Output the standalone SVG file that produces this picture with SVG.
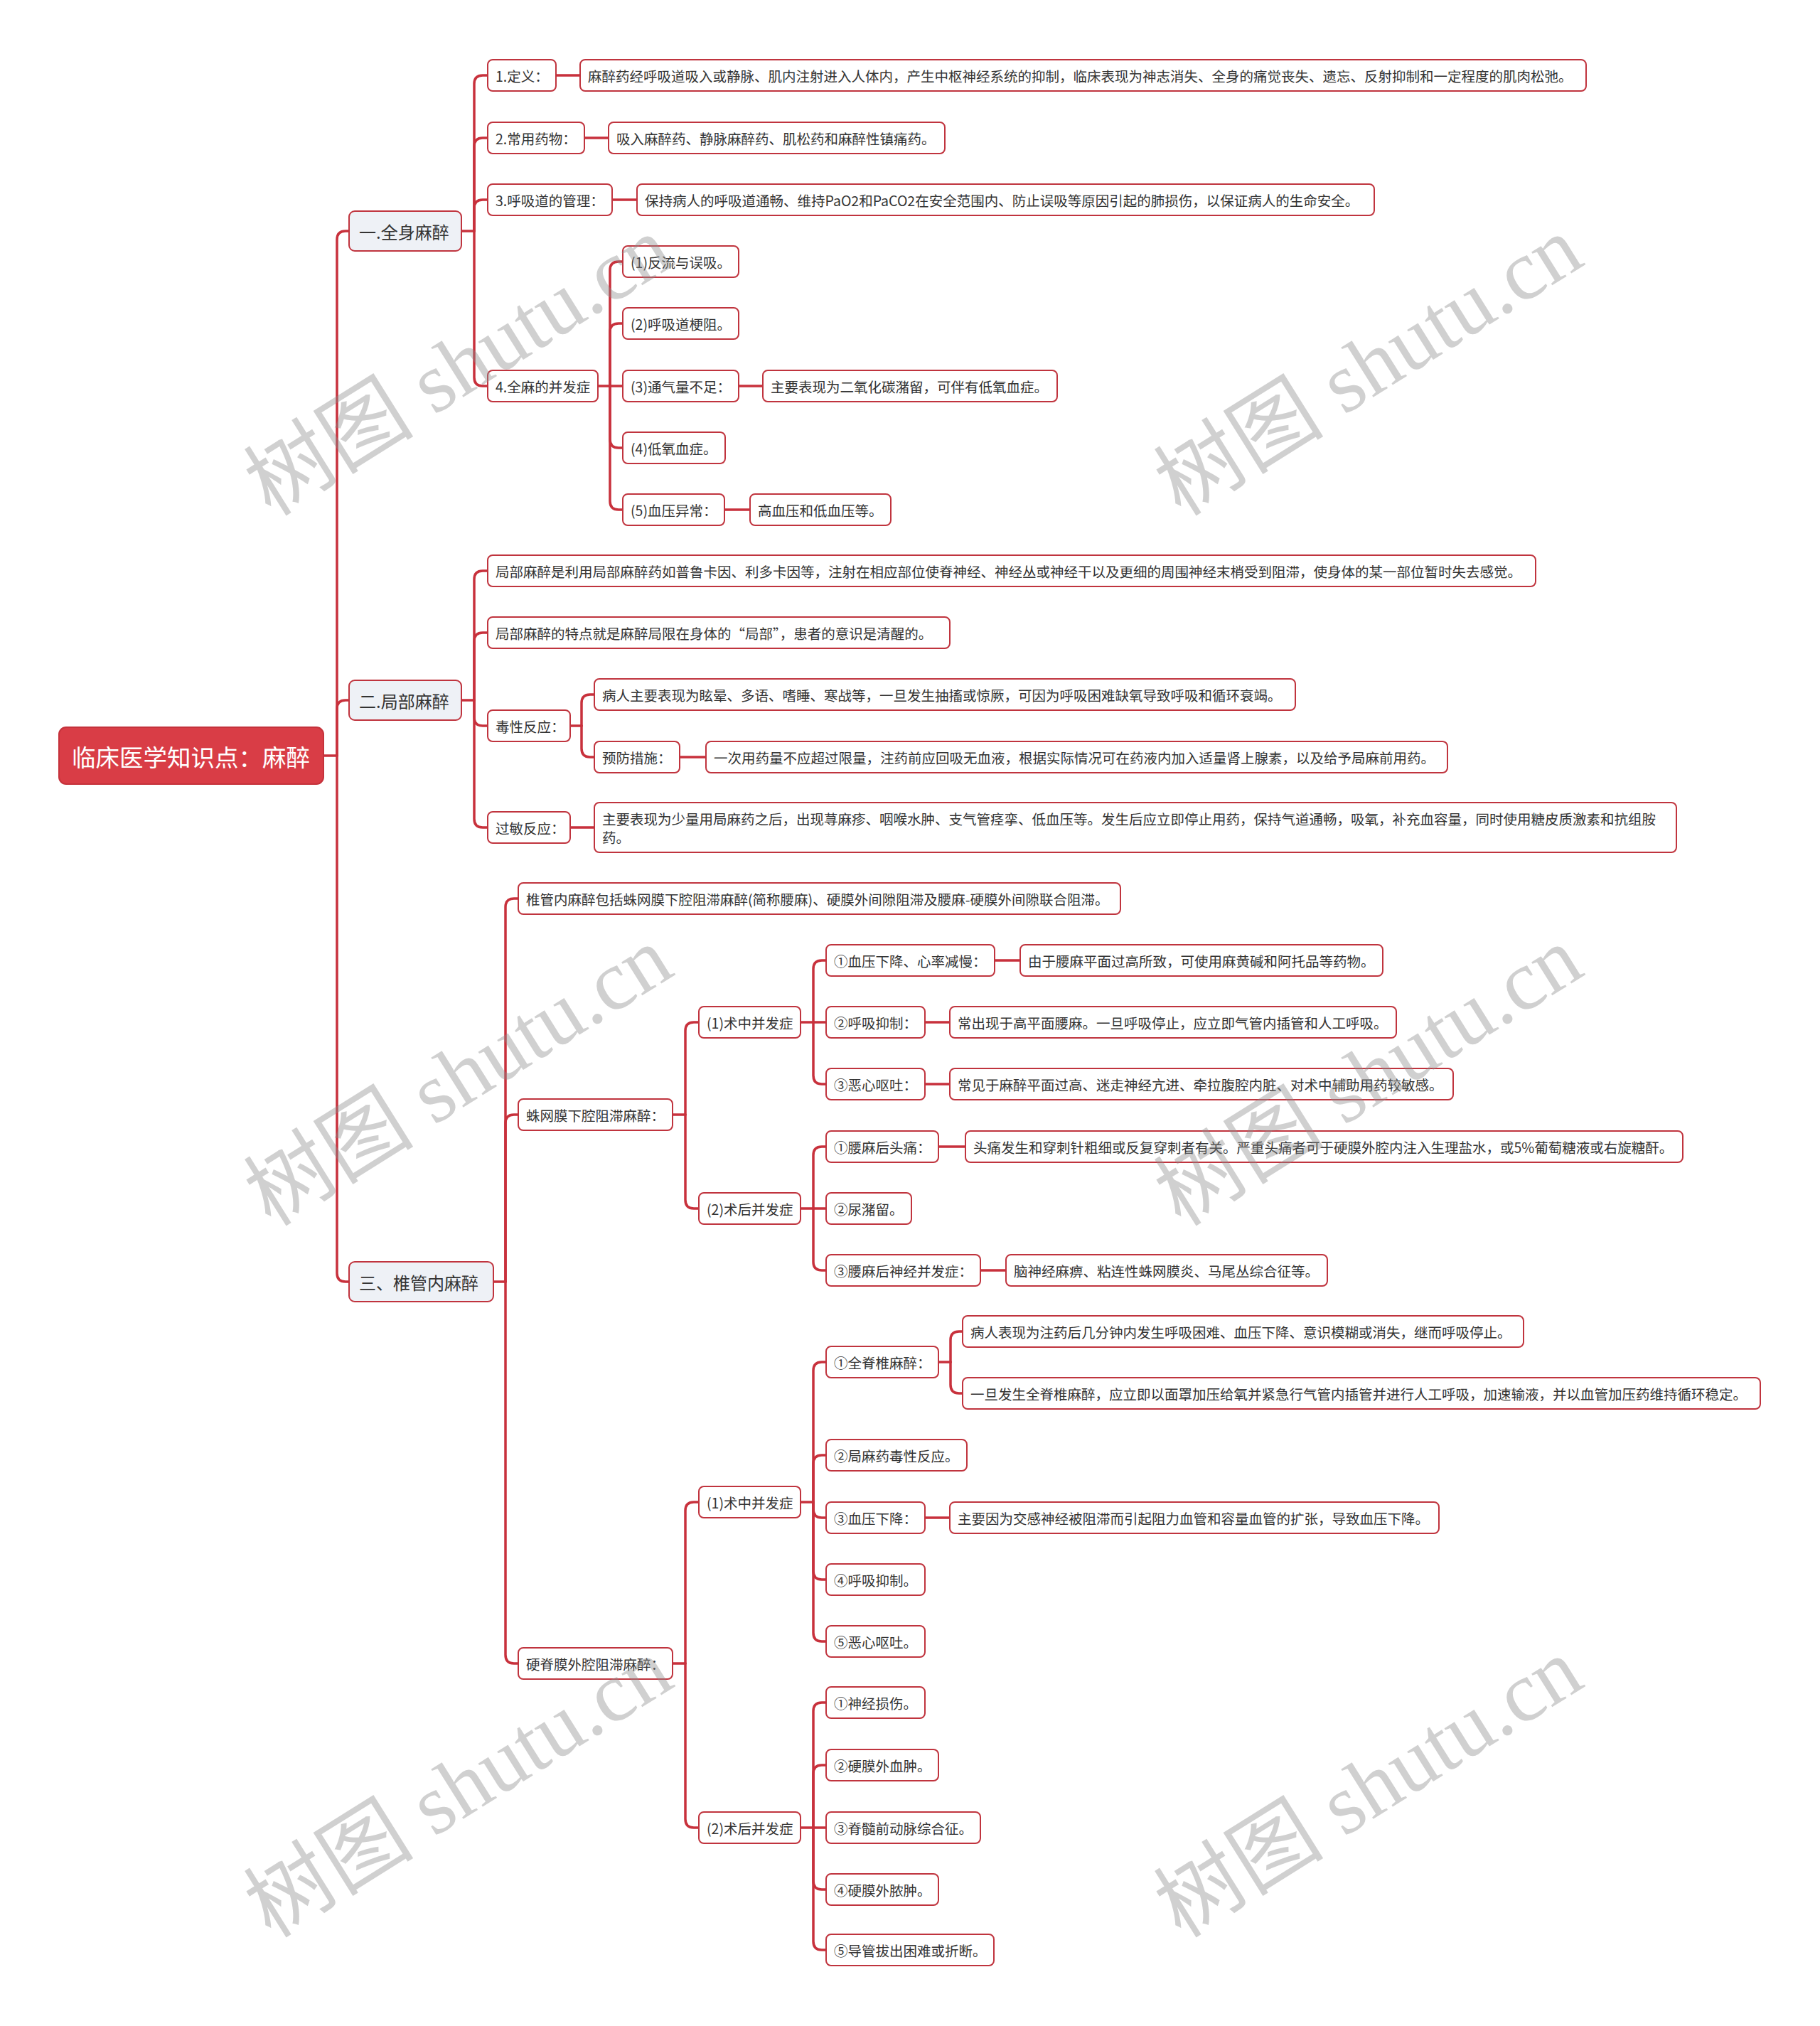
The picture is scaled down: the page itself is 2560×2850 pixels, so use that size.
<svg xmlns="http://www.w3.org/2000/svg" width="2560" height="2850" viewBox="0 0 2560 2850">
<style>
text{font-family:"Noto Sans CJK SC","Liberation Sans",sans-serif;dominant-baseline:central;fill:#333;}
.n rect{fill:#fff;stroke:#c0343e;stroke-width:2;}
.n text{font-size:19.5px;}
.l1 rect{fill:#eef1f6;stroke:#c0343e;stroke-width:2;}
.l1 text{font-size:24px;}
.root rect{fill:#d93d46;stroke:#c5323b;stroke-width:2;}
.root text{font-size:33.5px;fill:#fff;}
#connectors path{fill:none;stroke:#c8313c;stroke-width:3.5;stroke-linecap:round;}
.wm text{font-family:"Liberation Serif","Noto Sans CJK SC",serif;font-size:120px;fill:#8c8c8c;opacity:0.4;text-anchor:middle;}
</style>
<rect width="2560" height="2850" fill="#fff"/>
<g id="connectors">
<path d="M455 1063H474"/>
<path d="M474 1063V337Q474 325 486 325H491"/>
<path d="M474 1063V997Q474 985 486 985H491"/>
<path d="M474 1063V1791Q474 1803 486 1803H491"/>
<path d="M649 325H667"/>
<path d="M667 325V118Q667 106 679 106H686"/>
<path d="M667 325V206Q667 194 679 194H686"/>
<path d="M667 325V293Q667 281 679 281H686"/>
<path d="M667 325V531Q667 543 679 543H686"/>
<path d="M782 106H816"/>
<path d="M822 194H856"/>
<path d="M861 281H896"/>
<path d="M841 543H858"/>
<path d="M858 543V380Q858 368 870 368H876"/>
<path d="M858 543V467Q858 455 870 455H876"/>
<path d="M858 543H876"/>
<path d="M858 543V618Q858 630 870 630H876"/>
<path d="M858 543V705Q858 717 870 717H876"/>
<path d="M1039 543H1073"/>
<path d="M1019 717H1055"/>
<path d="M649 985H667"/>
<path d="M667 985V815Q667 803 679 803H686"/>
<path d="M667 985V902Q667 890 679 890H686"/>
<path d="M667 985V1009Q667 1021 679 1021H686"/>
<path d="M667 985V1152Q667 1164 679 1164H686"/>
<path d="M802 1021H818"/>
<path d="M818 1021V989Q818 977 830 977H836"/>
<path d="M818 1021V1053Q818 1065 830 1065H836"/>
<path d="M956 1065H993"/>
<path d="M802 1164H836"/>
<path d="M694 1803H711"/>
<path d="M711 1803V1276Q711 1264 723 1264H729"/>
<path d="M711 1803V1580Q711 1568 723 1568H729"/>
<path d="M711 1803V2328Q711 2340 723 2340H729"/>
<path d="M946 1568H964"/>
<path d="M964 1568V1450Q964 1438 976 1438H983"/>
<path d="M964 1568V1688Q964 1700 976 1700H983"/>
<path d="M1126 1438H1144"/>
<path d="M1144 1438V1363Q1144 1351 1156 1351H1162"/>
<path d="M1144 1438H1162"/>
<path d="M1144 1438V1513Q1144 1525 1156 1525H1162"/>
<path d="M1399 1351H1435"/>
<path d="M1301 1438H1336"/>
<path d="M1301 1525H1336"/>
<path d="M1126 1700H1144"/>
<path d="M1144 1700V1625Q1144 1613 1156 1613H1162"/>
<path d="M1144 1700H1162"/>
<path d="M1144 1700V1775Q1144 1787 1156 1787H1162"/>
<path d="M1320 1613H1358"/>
<path d="M1379 1787H1415"/>
<path d="M946 2340H964"/>
<path d="M964 2340V2125Q964 2113 976 2113H983"/>
<path d="M964 2340V2559Q964 2571 976 2571H983"/>
<path d="M1126 2113H1144"/>
<path d="M1144 2113V1928Q1144 1916 1156 1916H1162"/>
<path d="M1144 2113V2059Q1144 2047 1156 2047H1162"/>
<path d="M1144 2113V2123Q1144 2135 1156 2135H1162"/>
<path d="M1144 2113V2210Q1144 2222 1156 2222H1162"/>
<path d="M1144 2113V2297Q1144 2309 1156 2309H1162"/>
<path d="M1320 1916H1337"/>
<path d="M1337 1916V1885Q1337 1873 1349 1873H1354"/>
<path d="M1337 1916V1948Q1337 1960 1349 1960H1354"/>
<path d="M1301 2135H1336"/>
<path d="M1126 2571H1144"/>
<path d="M1144 2571V2407Q1144 2395 1156 2395H1162"/>
<path d="M1144 2571V2495Q1144 2483 1156 2483H1162"/>
<path d="M1144 2571H1162"/>
<path d="M1144 2571V2646Q1144 2658 1156 2658H1162"/>
<path d="M1144 2571V2731Q1144 2743 1156 2743H1162"/>
</g>

<g id="root" class="root"><rect x="83" y="1023" width="372" height="80" rx="10"/><text x="101" y="1063">临床医学知识点：麻醉</text></g>

<g id="n1" class="l1"><rect x="491" y="297" width="158" height="56" rx="8"/><text x="505" y="325">一.全身麻醉</text></g>
<g id="n2" class="l1"><rect x="491" y="957" width="158" height="56" rx="8"/><text x="505" y="985">二.局部麻醉</text></g>
<g id="n3" class="l1"><rect x="491" y="1775" width="203" height="56" rx="8"/><text x="505" y="1803">三、椎管内麻醉</text></g>

<g id="n1-1" class="n"><rect x="686" y="84" width="96" height="44" rx="7"/><text x="697" y="106">1.定义：</text></g>
<g id="n1-1a" class="n"><rect x="816" y="84" width="1415" height="44" rx="7"/><text x="827" y="106">麻醉药经呼吸道吸入或静脉、肌内注射进入人体内，产生中枢神经系统的抑制，临床表现为神志消失、全身的痛觉丧失、遗忘、反射抑制和一定程度的肌肉松弛。</text></g>
<g id="n1-2" class="n"><rect x="686" y="172" width="136" height="44" rx="7"/><text x="697" y="194">2.常用药物：</text></g>
<g id="n1-2a" class="n"><rect x="856" y="172" width="473" height="44" rx="7"/><text x="867" y="194">吸入麻醉药、静脉麻醉药、肌松药和麻醉性镇痛药。</text></g>
<g id="n1-3" class="n"><rect x="686" y="259" width="175" height="44" rx="7"/><text x="697" y="281">3.呼吸道的管理：</text></g>
<g id="n1-3a" class="n"><rect x="896" y="259" width="1037" height="44" rx="7"/><text x="907" y="281">保持病人的呼吸道通畅、维持PaO2和PaCO2在安全范围内、防止误吸等原因引起的肺损伤，以保证病人的生命安全。</text></g>
<g id="n1-4" class="n"><rect x="686" y="521" width="155" height="44" rx="7"/><text x="697" y="543">4.全麻的并发症</text></g>
<g id="n1-4-1" class="n"><rect x="876" y="346" width="163" height="44" rx="7"/><text x="887" y="368">(1)反流与误吸。</text></g>
<g id="n1-4-2" class="n"><rect x="876" y="433" width="163" height="44" rx="7"/><text x="887" y="455">(2)呼吸道梗阻。</text></g>
<g id="n1-4-3" class="n"><rect x="876" y="521" width="163" height="44" rx="7"/><text x="887" y="543">(3)通气量不足：</text></g>
<g id="n1-4-3a" class="n"><rect x="1073" y="521" width="414" height="44" rx="7"/><text x="1084" y="543">主要表现为二氧化碳潴留，可伴有低氧血症。</text></g>
<g id="n1-4-4" class="n"><rect x="876" y="608" width="144" height="44" rx="7"/><text x="887" y="630">(4)低氧血症。</text></g>
<g id="n1-4-5" class="n"><rect x="876" y="695" width="143" height="44" rx="7"/><text x="887" y="717">(5)血压异常：</text></g>
<g id="n1-4-5a" class="n"><rect x="1055" y="695" width="198" height="44" rx="7"/><text x="1066" y="717">高血压和低血压等。</text></g>

<g id="n2-1" class="n"><rect x="686" y="781" width="1474" height="44" rx="7"/><text x="697" y="803">局部麻醉是利用局部麻醉药如普鲁卡因、利多卡因等，注射在相应部位使脊神经、神经丛或神经干以及更细的周围神经末梢受到阻滞，使身体的某一部位暂时失去感觉。</text></g>
<g id="n2-2" class="n"><rect x="686" y="868" width="650" height="44" rx="7"/><text x="697" y="890">局部麻醉的特点就是麻醉局限在身体的“局部”，患者的意识是清醒的。</text></g>
<g id="n2-3" class="n"><rect x="686" y="999" width="116" height="44" rx="7"/><text x="697" y="1021">毒性反应：</text></g>
<g id="n2-3-1" class="n"><rect x="836" y="955" width="986" height="44" rx="7"/><text x="847" y="977">病人主要表现为眩晕、多语、嗜睡、寒战等，一旦发生抽搐或惊厥，可因为呼吸困难缺氧导致呼吸和循环衰竭。</text></g>
<g id="n2-3-2" class="n"><rect x="836" y="1043" width="120" height="44" rx="7"/><text x="847" y="1065">预防措施：</text></g>
<g id="n2-3-2a" class="n"><rect x="993" y="1043" width="1043" height="44" rx="7"/><text x="1004" y="1065">一次用药量不应超过限量，注药前应回吸无血液，根据实际情况可在药液内加入适量肾上腺素，以及给予局麻前用药。</text></g>
<g id="n2-4" class="n"><rect x="686" y="1142" width="116" height="44" rx="7"/><text x="697" y="1164">过敏反应：</text></g>
<g id="n2-4a" class="n"><rect x="836" y="1129" width="1522" height="70" rx="7"/><text x="847" y="1151">主要表现为少量用局麻药之后，出现荨麻疹、咽喉水肿、支气管痉挛、低血压等。发生后应立即停止用药，保持气道通畅，吸氧，补充血容量，同时使用糖皮质激素和抗组胺</text><text x="847" y="1177">药。</text></g>

<g id="n3-1" class="n"><rect x="729" y="1242" width="847" height="44" rx="7"/><text x="740" y="1264">椎管内麻醉包括蛛网膜下腔阻滞麻醉(简称腰麻)、硬膜外间隙阻滞及腰麻-硬膜外间隙联合阻滞。</text></g>
<g id="n3-2" class="n"><rect x="729" y="1546" width="217" height="44" rx="7"/><text x="740" y="1568">蛛网膜下腔阻滞麻醉：</text></g>
<g id="n3-2-1" class="n"><rect x="983" y="1416" width="143" height="44" rx="7"/><text x="994" y="1438">(1)术中并发症</text></g>
<g id="n3-2-1-1" class="n"><rect x="1162" y="1329" width="237" height="44" rx="7"/><text x="1173" y="1351">①血压下降、心率减慢：</text></g>
<g id="n3-2-1-1a" class="n"><rect x="1435" y="1329" width="510" height="44" rx="7"/><text x="1446" y="1351">由于腰麻平面过高所致，可使用麻黄碱和阿托品等药物。</text></g>
<g id="n3-2-1-2" class="n"><rect x="1162" y="1416" width="139" height="44" rx="7"/><text x="1173" y="1438">②呼吸抑制：</text></g>
<g id="n3-2-1-2a" class="n"><rect x="1336" y="1416" width="628" height="44" rx="7"/><text x="1347" y="1438">常出现于高平面腰麻。一旦呼吸停止，应立即气管内插管和人工呼吸。</text></g>
<g id="n3-2-1-3" class="n"><rect x="1162" y="1503" width="139" height="44" rx="7"/><text x="1173" y="1525">③恶心呕吐：</text></g>
<g id="n3-2-1-3a" class="n"><rect x="1336" y="1503" width="708" height="44" rx="7"/><text x="1347" y="1525">常见于麻醉平面过高、迷走神经亢进、牵拉腹腔内脏、对术中辅助用药较敏感。</text></g>
<g id="n3-2-2" class="n"><rect x="983" y="1678" width="143" height="44" rx="7"/><text x="994" y="1700">(2)术后并发症</text></g>
<g id="n3-2-2-1" class="n"><rect x="1162" y="1591" width="158" height="44" rx="7"/><text x="1173" y="1613">①腰麻后头痛：</text></g>
<g id="n3-2-2-1a" class="n"><rect x="1358" y="1591" width="1009" height="44" rx="7"/><text x="1369" y="1613">头痛发生和穿刺针粗细或反复穿刺者有关。严重头痛者可于硬膜外腔内注入生理盐水，或5%葡萄糖液或右旋糖酐。</text></g>
<g id="n3-2-2-2" class="n"><rect x="1162" y="1678" width="120" height="44" rx="7"/><text x="1173" y="1700">②尿潴留。</text></g>
<g id="n3-2-2-3" class="n"><rect x="1162" y="1765" width="217" height="44" rx="7"/><text x="1173" y="1787">③腰麻后神经并发症：</text></g>
<g id="n3-2-2-3a" class="n"><rect x="1415" y="1765" width="452" height="44" rx="7"/><text x="1426" y="1787">脑神经麻痹、粘连性蛛网膜炎、马尾丛综合征等。</text></g>

<g id="n3-3" class="n"><rect x="729" y="2318" width="217" height="44" rx="7"/><text x="740" y="2340">硬脊膜外腔阻滞麻醉：</text></g>
<g id="n3-3-1" class="n"><rect x="983" y="2091" width="143" height="44" rx="7"/><text x="994" y="2113">(1)术中并发症</text></g>
<g id="n3-3-1-1" class="n"><rect x="1162" y="1894" width="158" height="44" rx="7"/><text x="1173" y="1916">①全脊椎麻醉：</text></g>
<g id="n3-3-1-1a" class="n"><rect x="1354" y="1851" width="789" height="44" rx="7"/><text x="1365" y="1873">病人表现为注药后几分钟内发生呼吸困难、血压下降、意识模糊或消失，继而呼吸停止。</text></g>
<g id="n3-3-1-1b" class="n"><rect x="1354" y="1938" width="1122" height="44" rx="7"/><text x="1365" y="1960">一旦发生全脊椎麻醉，应立即以面罩加压给氧并紧急行气管内插管并进行人工呼吸，加速输液，并以血管加压药维持循环稳定。</text></g>
<g id="n3-3-1-2" class="n"><rect x="1162" y="2025" width="198" height="44" rx="7"/><text x="1173" y="2047">②局麻药毒性反应。</text></g>
<g id="n3-3-1-3" class="n"><rect x="1162" y="2113" width="139" height="44" rx="7"/><text x="1173" y="2135">③血压下降：</text></g>
<g id="n3-3-1-3a" class="n"><rect x="1336" y="2113" width="688" height="44" rx="7"/><text x="1347" y="2135">主要因为交感神经被阻滞而引起阻力血管和容量血管的扩张，导致血压下降。</text></g>
<g id="n3-3-1-4" class="n"><rect x="1162" y="2200" width="139" height="44" rx="7"/><text x="1173" y="2222">④呼吸抑制。</text></g>
<g id="n3-3-1-5" class="n"><rect x="1162" y="2287" width="139" height="44" rx="7"/><text x="1173" y="2309">⑤恶心呕吐。</text></g>
<g id="n3-3-2" class="n"><rect x="983" y="2549" width="143" height="44" rx="7"/><text x="994" y="2571">(2)术后并发症</text></g>
<g id="n3-3-2-1" class="n"><rect x="1162" y="2373" width="139" height="44" rx="7"/><text x="1173" y="2395">①神经损伤。</text></g>
<g id="n3-3-2-2" class="n"><rect x="1162" y="2461" width="158" height="44" rx="7"/><text x="1173" y="2483">②硬膜外血肿。</text></g>
<g id="n3-3-2-3" class="n"><rect x="1162" y="2549" width="217" height="44" rx="7"/><text x="1173" y="2571">③脊髓前动脉综合征。</text></g>
<g id="n3-3-2-4" class="n"><rect x="1162" y="2636" width="158" height="44" rx="7"/><text x="1173" y="2658">④硬膜外脓肿。</text></g>
<g id="n3-3-2-5" class="n"><rect x="1162" y="2721" width="236" height="44" rx="7"/><text x="1173" y="2743">⑤导管拔出困难或折断。</text></g>

<g class="wm">
<text transform="translate(645 515) rotate(-32)">树图 shutu.cn</text>
<text transform="translate(1925 515) rotate(-32)">树图 shutu.cn</text>
<text transform="translate(645 1514) rotate(-32)">树图 shutu.cn</text>
<text transform="translate(1925 1514) rotate(-32)">树图 shutu.cn</text>
<text transform="translate(645 2515) rotate(-32)">树图 shutu.cn</text>
<text transform="translate(1925 2515) rotate(-32)">树图 shutu.cn</text>
</g>
</svg>
